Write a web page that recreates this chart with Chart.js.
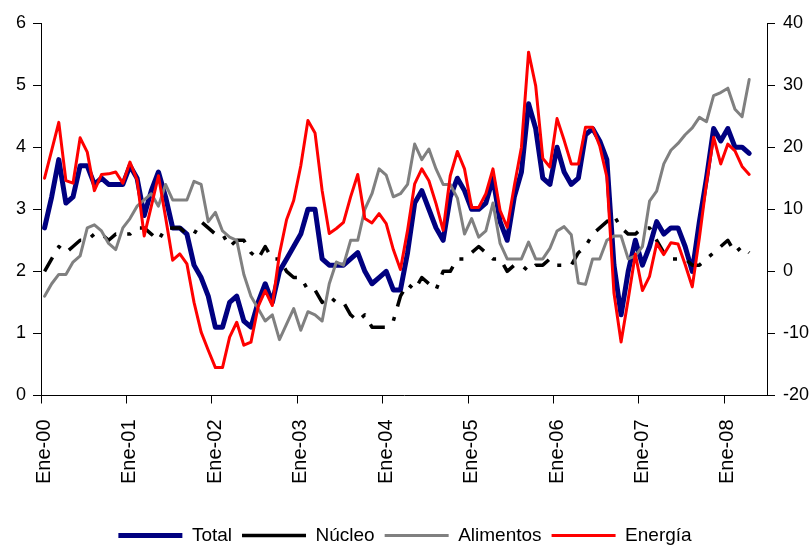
<!DOCTYPE html>
<html>
<head>
<meta charset="utf-8">
<script src="https://cdn.jsdelivr.net/npm/chart.js@4.4.1/dist/chart.umd.min.js"></script>
<style>
  html, body { margin: 0; padding: 0; background: #ffffff; }
  canvas { display: block; }
</style>
</head>
<body>
<canvas id="grafico" width="810" height="547"></canvas>
<script>
// Meses y años de la serie mensual (Ene-00 a Jun-08)
const meses = ['Ene', 'Feb', 'Mar', 'Abr', 'May', 'Jun', 'Jul', 'Ago', 'Sep', 'Oct', 'Nov', 'Dic'];
const anios = ['00', '01', '02', '03', '04', '05', '06', '07', '08'];
const mesesUltimoAnio = 6;

const categorias = [];
anios.forEach((a, k) => {
  const n = k === anios.length - 1 ? mesesUltimoAnio : 12;
  for (let m = 0; m < n; m++) categorias.push(meses[m] + '-' + a);
});

// Variación anual (%), eje izquierdo
const total = [
  2.7, 3.2, 3.8, 3.1, 3.2, 3.7, 3.7, 3.4, 3.5, 3.4, 3.4, 3.4,
  3.7, 3.5, 2.9, 3.3, 3.6, 3.2, 2.7, 2.7, 2.6, 2.1, 1.9, 1.6,
  1.1, 1.1, 1.5, 1.6, 1.2, 1.1, 1.5, 1.8, 1.5, 2.0, 2.2, 2.4,
  2.6, 3.0, 3.0, 2.2, 2.1, 2.1, 2.1, 2.2, 2.3, 2.0, 1.8, 1.9,
  2.0, 1.7, 1.7, 2.3, 3.1, 3.3, 3.0, 2.7, 2.5, 3.2, 3.5, 3.3,
  3.0, 3.0, 3.1, 3.5, 2.8, 2.5, 3.2, 3.6, 4.7, 4.3, 3.5, 3.4,
  4.0, 3.6, 3.4, 3.5, 4.2, 4.3, 4.1, 3.8, 2.1, 1.3, 2.0, 2.5,
  2.1, 2.4, 2.8, 2.6, 2.7, 2.7, 2.4, 2.0, 2.8, 3.5, 4.3, 4.1,
  4.3, 4.0, 4.0, 3.9
];

const nucleo = [
  2.0, 2.2, 2.4, 2.3, 2.4, 2.5, 2.5, 2.6, 2.6, 2.5, 2.6, 2.6,
  2.6, 2.7, 2.7, 2.6, 2.5, 2.7, 2.7, 2.7, 2.6, 2.6, 2.8, 2.7,
  2.6, 2.6, 2.4, 2.5, 2.5, 2.3, 2.2, 2.4, 2.2, 2.2, 2.0, 1.9,
  1.9, 1.7, 1.7, 1.5, 1.6, 1.5, 1.5, 1.3, 1.2, 1.3, 1.1, 1.1,
  1.1, 1.2, 1.6, 1.8, 1.7, 1.9, 1.8, 1.7, 2.0, 2.0, 2.2, 2.2,
  2.3, 2.4, 2.3, 2.2, 2.2, 2.0, 2.1, 2.1, 2.0, 2.1, 2.1, 2.2,
  2.1, 2.1, 2.1, 2.3, 2.4, 2.6, 2.7, 2.8, 2.9, 2.7, 2.6, 2.6,
  2.7, 2.7, 2.5, 2.3, 2.2, 2.2, 2.2, 2.1, 2.1, 2.2, 2.3, 2.4,
  2.5, 2.3, 2.4, 2.3
];

const alimentos = [
  1.6, 1.8, 1.95, 1.95, 2.15, 2.25, 2.7, 2.75, 2.65, 2.45, 2.35, 2.7,
  2.85, 3.05, 3.15, 3.25, 3.05, 3.4, 3.15, 3.15, 3.15, 3.45, 3.4, 2.8,
  2.95, 2.65, 2.55, 2.5, 1.95, 1.6, 1.4, 1.2, 1.3, 0.9, 1.15, 1.4,
  1.05, 1.35, 1.3, 1.2, 1.8, 2.15, 2.1, 2.5, 2.5, 3.0, 3.25, 3.65,
  3.55, 3.2, 3.25, 3.4, 4.05, 3.8, 3.97, 3.65, 3.4, 3.4, 3.18, 2.6,
  2.85, 2.55, 2.65, 3.1, 2.45, 2.2, 2.2, 2.2, 2.47, 2.2, 2.2, 2.37,
  2.65, 2.72, 2.59, 1.81, 1.79, 2.2, 2.2, 2.5, 2.57, 2.57, 2.2, 2.25,
  2.4, 3.13, 3.29, 3.73, 3.95, 4.06, 4.2, 4.31, 4.48, 4.41, 4.83, 4.88,
  4.95, 4.61, 4.49, 5.09
];

// Variación anual (%), eje derecho
const energia = [
  15.0, 19.5, 24.0, 14.6, 14.2, 21.5, 19.2, 13.0, 15.6, 15.7, 16.0, 14.2,
  17.6, 14.7, 5.7, 10.5, 15.4, 8.7, 1.8, 2.8, 1.2, -5.0, -9.8, -12.7,
  -15.5, -15.5, -10.6, -8.2, -11.9, -11.4, -5.7, -3.1, -5.5, 2.8, 8.3, 11.4,
  17.0, 24.3, 22.3, 13.0, 6.1, 6.9, 7.9, 12.0, 15.6, 8.5, 7.8, 9.3,
  7.7, 3.5, 0.3, 6.6, 14.1, 16.5, 14.6, 10.9, 6.6, 15.4, 19.3, 16.5,
  10.3, 10.3, 12.5, 16.5, 9.8, 7.1, 13.8, 20.0, 35.3, 29.9, 18.2, 16.8,
  24.6, 21.1, 17.3, 17.3, 23.2, 23.2, 20.2, 15.2, -3.5, -11.4, -4.5, 2.8,
  -3.1, -0.8, 4.5, 2.7, 4.6, 4.4, 1.1, -2.5, 5.4, 14.2, 21.6, 17.3,
  20.5, 19.4, 16.9, 15.6
];

const fuente = "'Liberation Sans', Arial, sans-serif";

const ejeY = (posicion, min, max, paso, ancho, relleno) => ({
  type: 'linear',
  position: posicion,
  min: min,
  max: max,
  ticks: {
    stepSize: paso,
    padding: relleno,
    color: '#000000',
    font: { family: fuente, size: 18 }
  },
  grid: { drawOnChartArea: false, tickLength: 8, tickColor: '#000000', tickWidth: 1 },
  border: { color: '#000000', width: 1 },
  afterFit: (s) => { s.width = ancho; }
});

new Chart(document.getElementById('grafico'), {
  type: 'line',
  data: {
    labels: categorias,
    datasets: [
      {
        label: 'Total',
        data: total,
        yAxisID: 'y',
        borderColor: '#000080',
        borderWidth: 5,
        borderCapStyle: 'round',
        order: 4
      },
      {
        label: 'Núcleo',
        data: nucleo,
        yAxisID: 'y',
        borderColor: '#000000',
        borderWidth: 3.5,
        borderDash: [16, 11, 4, 11],
        borderCapStyle: 'butt',
        order: 3
      },
      {
        label: 'Alimentos',
        data: alimentos,
        yAxisID: 'y',
        borderColor: '#808080',
        borderWidth: 3,
        borderCapStyle: 'round',
        order: 2
      },
      {
        label: 'Energía',
        data: energia,
        yAxisID: 'y2',
        borderColor: '#ff0000',
        borderWidth: 3,
        borderCapStyle: 'round',
        order: 1
      }
    ]
  },
  options: {
    responsive: false,
    animation: false,
    devicePixelRatio: 1,
    layout: { padding: { top: 23, right: 0, bottom: -8, left: 0 } },
    elements: {
      point: { radius: 0, hoverRadius: 0 },
      line: { tension: 0, fill: false, borderJoinStyle: 'round' }
    },
    plugins: {
      tooltip: { enabled: false },
      legend: {
        position: 'bottom',
        labels: {
          usePointStyle: true,
          pointStyle: 'line',
          pointStyleWidth: 64,
          padding: 10,
          color: '#000000',
          font: { family: fuente, size: 19 },
          sort: (a, b) => a.datasetIndex - b.datasetIndex
        }
      }
    },
    scales: {
      x: {
        type: 'category',
        offset: true,
        grid: {
          offset: true,
          drawOnChartArea: false,
          tickLength: 8,
          tickWidth: 1,
          tickColor: (c) => (c.index % 12 === 0 ? '#000000' : 'rgba(0,0,0,0)')
        },
        border: { color: '#000000', width: 1 },
        ticks: {
          autoSkip: false,
          minRotation: 90,
          maxRotation: 90,
          padding: 16,
          color: '#000000',
          font: { family: fuente, size: 20 },
          callback: function (v, i) { return i % 12 === 0 ? this.getLabelForValue(v) : ''; }
        },
        afterFit: (s) => { s.height = 120.5; }
      },
      y: ejeY('left', 0, 6, 1, 41, 7),
      y2: ejeY('right', -20, 40, 10, 43, 8)
    }
  }
});
</script>
</body>
</html>
